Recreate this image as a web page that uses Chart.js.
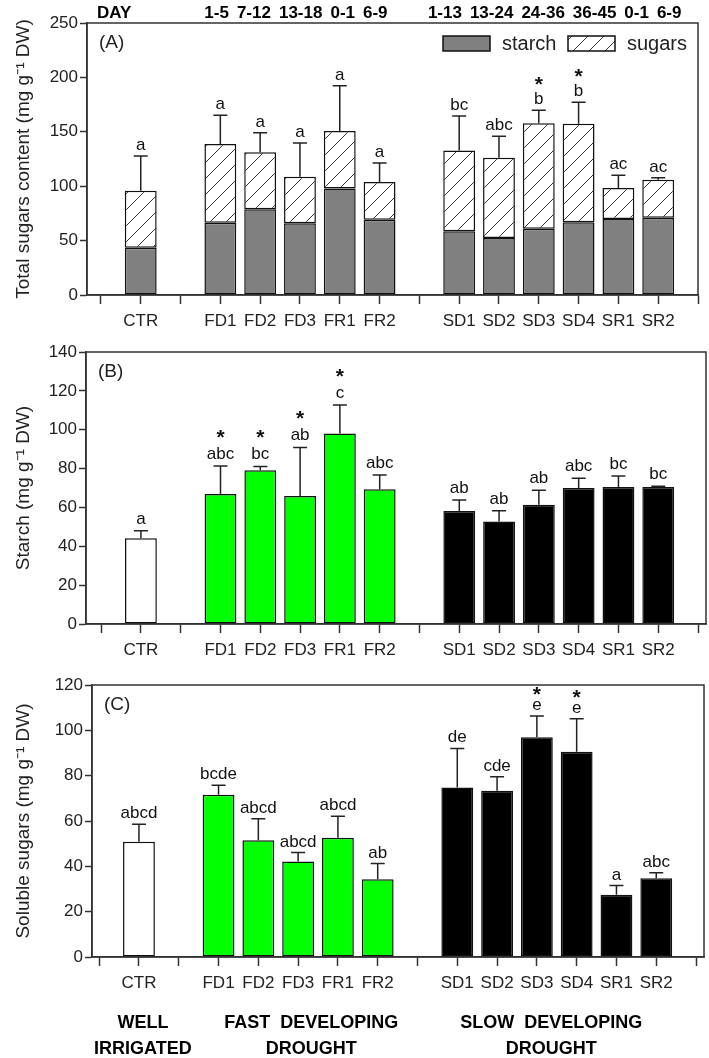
<!DOCTYPE html>
<html>
<head>
<meta charset="utf-8">
<script src="https://cdn.jsdelivr.net/npm/chart.js@4.4.0/dist/chart.umd.min.js"></script>
<style>
  body { margin: 0; background: #fff; }
  #wrap { position: relative; width: 709px; height: 1058px; }
  canvas { position: absolute; left: 0; }
</style>
</head>
<body>
<div id="wrap">
  <canvas id="chartA" width="709" height="335" style="top:0px"></canvas>
  <canvas id="chartB" width="709" height="335" style="top:330px"></canvas>
  <canvas id="chartC" width="709" height="398" style="top:660px"></canvas>
</div>
<script>
// x axis slots, blanks are the gaps between treatment groups
const axisSlots = ['', 'CTR', '', 'FD1', 'FD2', 'FD3', 'FR1', 'FR2', '', 'SD1', 'SD2', 'SD3', 'SD4', 'SR1', 'SR2', ''];
const treatments = ['CTR', 'FD1', 'FD2', 'FD3', 'FR1', 'FR2', 'SD1', 'SD2', 'SD3', 'SD4', 'SR1', 'SR2'];
const dayLabels = ['', '1-5', '7-12', '13-18', '0-1', '6-9', '1-13', '13-24', '24-36', '36-45', '0-1', '6-9'];

// (A) total sugars content = starch + soluble sugars
const totalStarch = [43.5, 66.5, 78.7, 65.9, 98.0, 69.2, 58.5, 52.4, 61.0, 66.8, 69.9, 71.1];
const totalSugars = [52.4, 72.3, 52.4, 42.9, 52.7, 34.7, 74.2, 73.8, 96.8, 90.7, 28.4, 34.9];
const totalErr = [31.9, 26.3, 18.1, 30.9, 41.7, 17.4, 31.8, 19.6, 11.9, 19.6, 11.7, 1.8];
const totalLetters = ['a', 'a', 'a', 'a', 'a', 'a', 'bc', 'abc', '*\nb', '*\nb', 'ac', 'ac'];
const ticksA = [0, 50, 100, 150, 200, 250];

// (B) starch
const starch = [44.1, 66.9, 79.1, 65.9, 98.1, 69.3, 58.2, 52.7, 61.4, 70.0, 70.5, 70.5];
const starchErr = [3.9, 14.4, 2.0, 25.0, 14.6, 7.4, 5.6, 5.6, 7.4, 5.0, 5.7, 0.4];
const starchLetters = ['a', '*\nabc', '*\nbc', '*\nab', '*\nc', 'abc', 'ab', 'ab', 'ab', 'abc', 'bc', 'bc'];
const ticksB = [0, 20, 40, 60, 80, 100, 120, 140];

// (C) soluble sugars
const sugars = [50.8, 71.6, 51.5, 42.1, 52.6, 34.3, 74.8, 73.3, 96.9, 90.5, 27.5, 34.7];
const sugarsErr = [7.8, 4.2, 9.5, 4.0, 9.5, 6.9, 17.2, 6.2, 9.4, 14.6, 4.0, 2.5];
const sugarsLetters = ['abcd', 'bcde', 'abcd', 'abcd', 'abcd', 'ab', 'de', 'cde', '*\ne', '*\ne', 'a', 'abc'];
const ticksC = [0, 20, 40, 60, 80, 100, 120];

const groupTitles = [['WELL', 'IRRIGATED'], ['FAST  DEVELOPING', 'DROUGHT'], ['SLOW  DEVELOPING', 'DROUGHT']];

const FONT = '"Liberation Sans", Arial, sans-serif';
const INK = '#222';

function points(values) {
  return treatments.map((t, i) => ({ x: axisSlots.indexOf(t), y: values[i] }));
}

function barColour(t) {
  if (t === 'CTR') return '#ffffff';
  return t[0] === 'F' ? '#00ff00' : '#000000';
}

function hatchPattern(canvas) {
  const tile = document.createElement('canvas');
  tile.width = 16; tile.height = 16;
  const g = tile.getContext('2d');
  g.fillStyle = '#fff';
  g.fillRect(0, 0, 16, 16);
  g.strokeStyle = '#333';
  g.lineWidth = 1;
  g.beginPath();
  for (const dx of [-16, 0, 16]) {
    g.moveTo(dx, 16);
    g.lineTo(dx + 16, 0);
  }
  g.stroke();
  return canvas.getContext('2d').createPattern(tile, 'repeat');
}

const panelDeco = {
  id: 'panelDeco',
  afterDatasetsDraw(chart, args, o) {
    const { ctx, chartArea: a, scales: { x, y } } = chart;
    ctx.save();

    // upper error bars and significance letters
    treatments.forEach((t, i) => {
      const px = x.getPixelForValue(axisSlots.indexOf(t));
      const y0 = y.getPixelForValue(o.tops[i]);
      const y1 = y.getPixelForValue(o.tops[i] + o.errors[i]);
      ctx.strokeStyle = INK;
      ctx.lineWidth = 1.5;
      ctx.beginPath();
      ctx.moveTo(px, y0);
      ctx.lineTo(px, y1);
      ctx.moveTo(px - 7, y1);
      ctx.lineTo(px + 7, y1);
      ctx.stroke();

      ctx.fillStyle = '#111';
      ctx.textAlign = 'center';
      ctx.textBaseline = 'alphabetic';
      const lines = o.letters[i].split('\n').reverse();
      lines.forEach((s, k) => {
        ctx.font = s === '*' ? 'bold 21px ' + FONT : '17px ' + FONT;
        ctx.fillText(s, px, y1 - o.letterGap - k * o.lineGap);
      });
    });

    // box round the plot
    ctx.strokeStyle = '#333';
    ctx.lineWidth = 1.5;
    ctx.strokeRect(a.left, a.top, a.right - a.left, a.bottom - a.top);

    // panel tag
    ctx.fillStyle = INK;
    ctx.font = '19px ' + FONT;
    ctx.textAlign = 'left';
    ctx.textBaseline = 'middle';
    ctx.fillText(o.tag, a.left + 12, a.top + 20);

    if (o.legend) {
      const ds = chart.data.datasets;
      const sy = a.top + 13;
      [[a.right - 255, a.right - 196], [a.right - 130, a.right - 71]].forEach(([sx, tx], k) => {
        ctx.fillStyle = ds[k].backgroundColor;
        ctx.fillRect(sx, sy, 47, 15);
        ctx.strokeStyle = '#111';
        ctx.lineWidth = 1.5;
        ctx.strokeRect(sx, sy, 47, 15);
        ctx.fillStyle = INK;
        ctx.font = '20px ' + FONT;
        ctx.textAlign = 'left';
        ctx.textBaseline = 'middle';
        ctx.fillText(ds[k].label, tx, sy + 8);
      });
    }

    if (o.days) {
      ctx.fillStyle = '#000';
      ctx.font = 'bold 17px ' + FONT;
      ctx.textBaseline = 'middle';
      ctx.textAlign = 'left';
      const ty = a.top - 10;
      ctx.fillText('DAY', a.left + 10, ty);
      ['F', 'S'].forEach(g => {
        const idx = treatments.map((t, i) => i).filter(i => treatments[i][0] === g);
        const gap = 8;
        const widths = idx.map(i => ctx.measureText(dayLabels[i]).width);
        const total = widths.reduce((s, w) => s + w, 0) + gap * (idx.length - 1);
        const mid = (x.getPixelForValue(axisSlots.indexOf(treatments[idx[0]])) +
                     x.getPixelForValue(axisSlots.indexOf(treatments[idx[idx.length - 1]]))) / 2 - 4;
        let cx = mid - total / 2;
        idx.forEach((i, k) => {
          ctx.fillText(dayLabels[i], cx, ty);
          cx += widths[k] + gap;
        });
      });
    }

    if (o.groups) {
      ctx.fillStyle = '#000';
      ctx.font = 'bold 18px ' + FONT;
      ctx.textAlign = 'center';
      ctx.textBaseline = 'middle';
      groupTitles.forEach((lines, k) => {
        const gx = x.getPixelForValue(o.groups[k]);
        lines.forEach((s, j) => ctx.fillText(s, gx, a.bottom + 66 + j * 26));
      });
    }
    ctx.restore();
  }
};

function panelConfig(p) {
  return {
    type: 'bar',
    data: { datasets: p.datasets },
    options: {
      responsive: false,
      animation: false,
      devicePixelRatio: 1,
      layout: { padding: p.padding },
      plugins: {
        legend: { display: false },
        tooltip: { enabled: false },
        panelDeco: p.deco
      },
      scales: {
        x: {
          type: 'linear',
          min: p.xMin,
          max: p.xMax,
          offset: false,
          afterFit: s => { s.height = p.xHeight; },
          afterBuildTicks: s => { s.ticks = axisSlots.map((_, i) => ({ value: i })); },
          grid: { display: true, offset: false, drawOnChartArea: false, drawTicks: true, tickLength: 9, tickWidth: 1.5, tickColor: '#333' },
          border: { display: true, color: '#333', width: 1.5 },
          ticks: {
            autoSkip: false, maxRotation: 0, minRotation: 0, padding: 7, color: INK,
            font: { family: FONT, size: 17 },
            callback: v => axisSlots[v] || ''
          }
        },
        y: {
          stacked: true,
          min: p.ticks[0],
          max: p.ticks[p.ticks.length - 1],
          afterFit: s => { s.width = p.yWidth; },
          grid: { display: true, drawOnChartArea: false, drawTicks: true, tickLength: 7, tickWidth: 1.5, tickColor: '#333' },
          border: { display: true, color: '#333', width: 1.5 },
          ticks: {
            stepSize: p.ticks[1] - p.ticks[0], padding: 2, color: INK,
            font: { family: FONT, size: 17 }
          },
          title: {
            display: true, text: p.yTitle, color: INK,
            font: { family: FONT, size: 19 },
            padding: { top: 12, bottom: 0 }
          }
        }
      }
    },
    plugins: [panelDeco]
  };
}

const barStyle = { borderColor: '#111', borderWidth: 1.5, borderSkipped: false, barPercentage: 0.8, categoryPercentage: 1 };

const canvasA = document.getElementById('chartA');
new Chart(canvasA, panelConfig({
  datasets: [
    Object.assign({ label: 'starch', data: points(totalStarch), backgroundColor: '#808080', stack: 'total' }, barStyle),
    Object.assign({ label: 'sugars', data: points(totalSugars), backgroundColor: hatchPattern(canvasA), stack: 'total' }, barStyle)
  ],
  padding: { top: 23, right: 11, bottom: 0, left: 0 },
  xMin: -0.35, xMax: 15, xHeight: 40, yWidth: 87,
  ticks: ticksA,
  yTitle: 'Total sugars content (mg g\u207B\u00B9 DW)',
  deco: {
    tag: '(A)', legend: true, days: true,
    tops: totalStarch.map((v, i) => v + totalSugars[i]),
    errors: totalErr, letters: totalLetters, letterGap: 6, lineGap: 13
  }
}));

new Chart(document.getElementById('chartB'), panelConfig({
  datasets: [
    Object.assign({ label: 'starch', data: points(starch), backgroundColor: treatments.map(barColour) }, barStyle)
  ],
  padding: { top: 22, right: 3, bottom: 0, left: 0 },
  xMin: -0.38, xMax: 15.2, xHeight: 41, yWidth: 86,
  ticks: ticksB,
  yTitle: 'Starch (mg g\u207B\u00B9 DW)',
  deco: { tag: '(B)', tops: starch, errors: starchErr, letters: starchLetters, letterGap: 7, lineGap: 15 }
}));

new Chart(document.getElementById('chartC'), panelConfig({
  datasets: [
    Object.assign({ label: 'sugars', data: points(sugars), backgroundColor: treatments.map(barColour) }, barStyle)
  ],
  padding: { top: 25, right: 5, bottom: 0, left: 0 },
  xMin: -0.18, xMax: 15.2, xHeight: 101, yWidth: 92,
  ticks: ticksC,
  yTitle: 'Soluble sugars (mg g\u207B\u00B9 DW)',
  deco: { tag: '(C)', groups: [1.1, 5.33, 11.36], tops: sugars, errors: sugarsErr, letters: sugarsLetters, letterGap: 6, lineGap: 9 }
}));
</script>
</body>
</html>
